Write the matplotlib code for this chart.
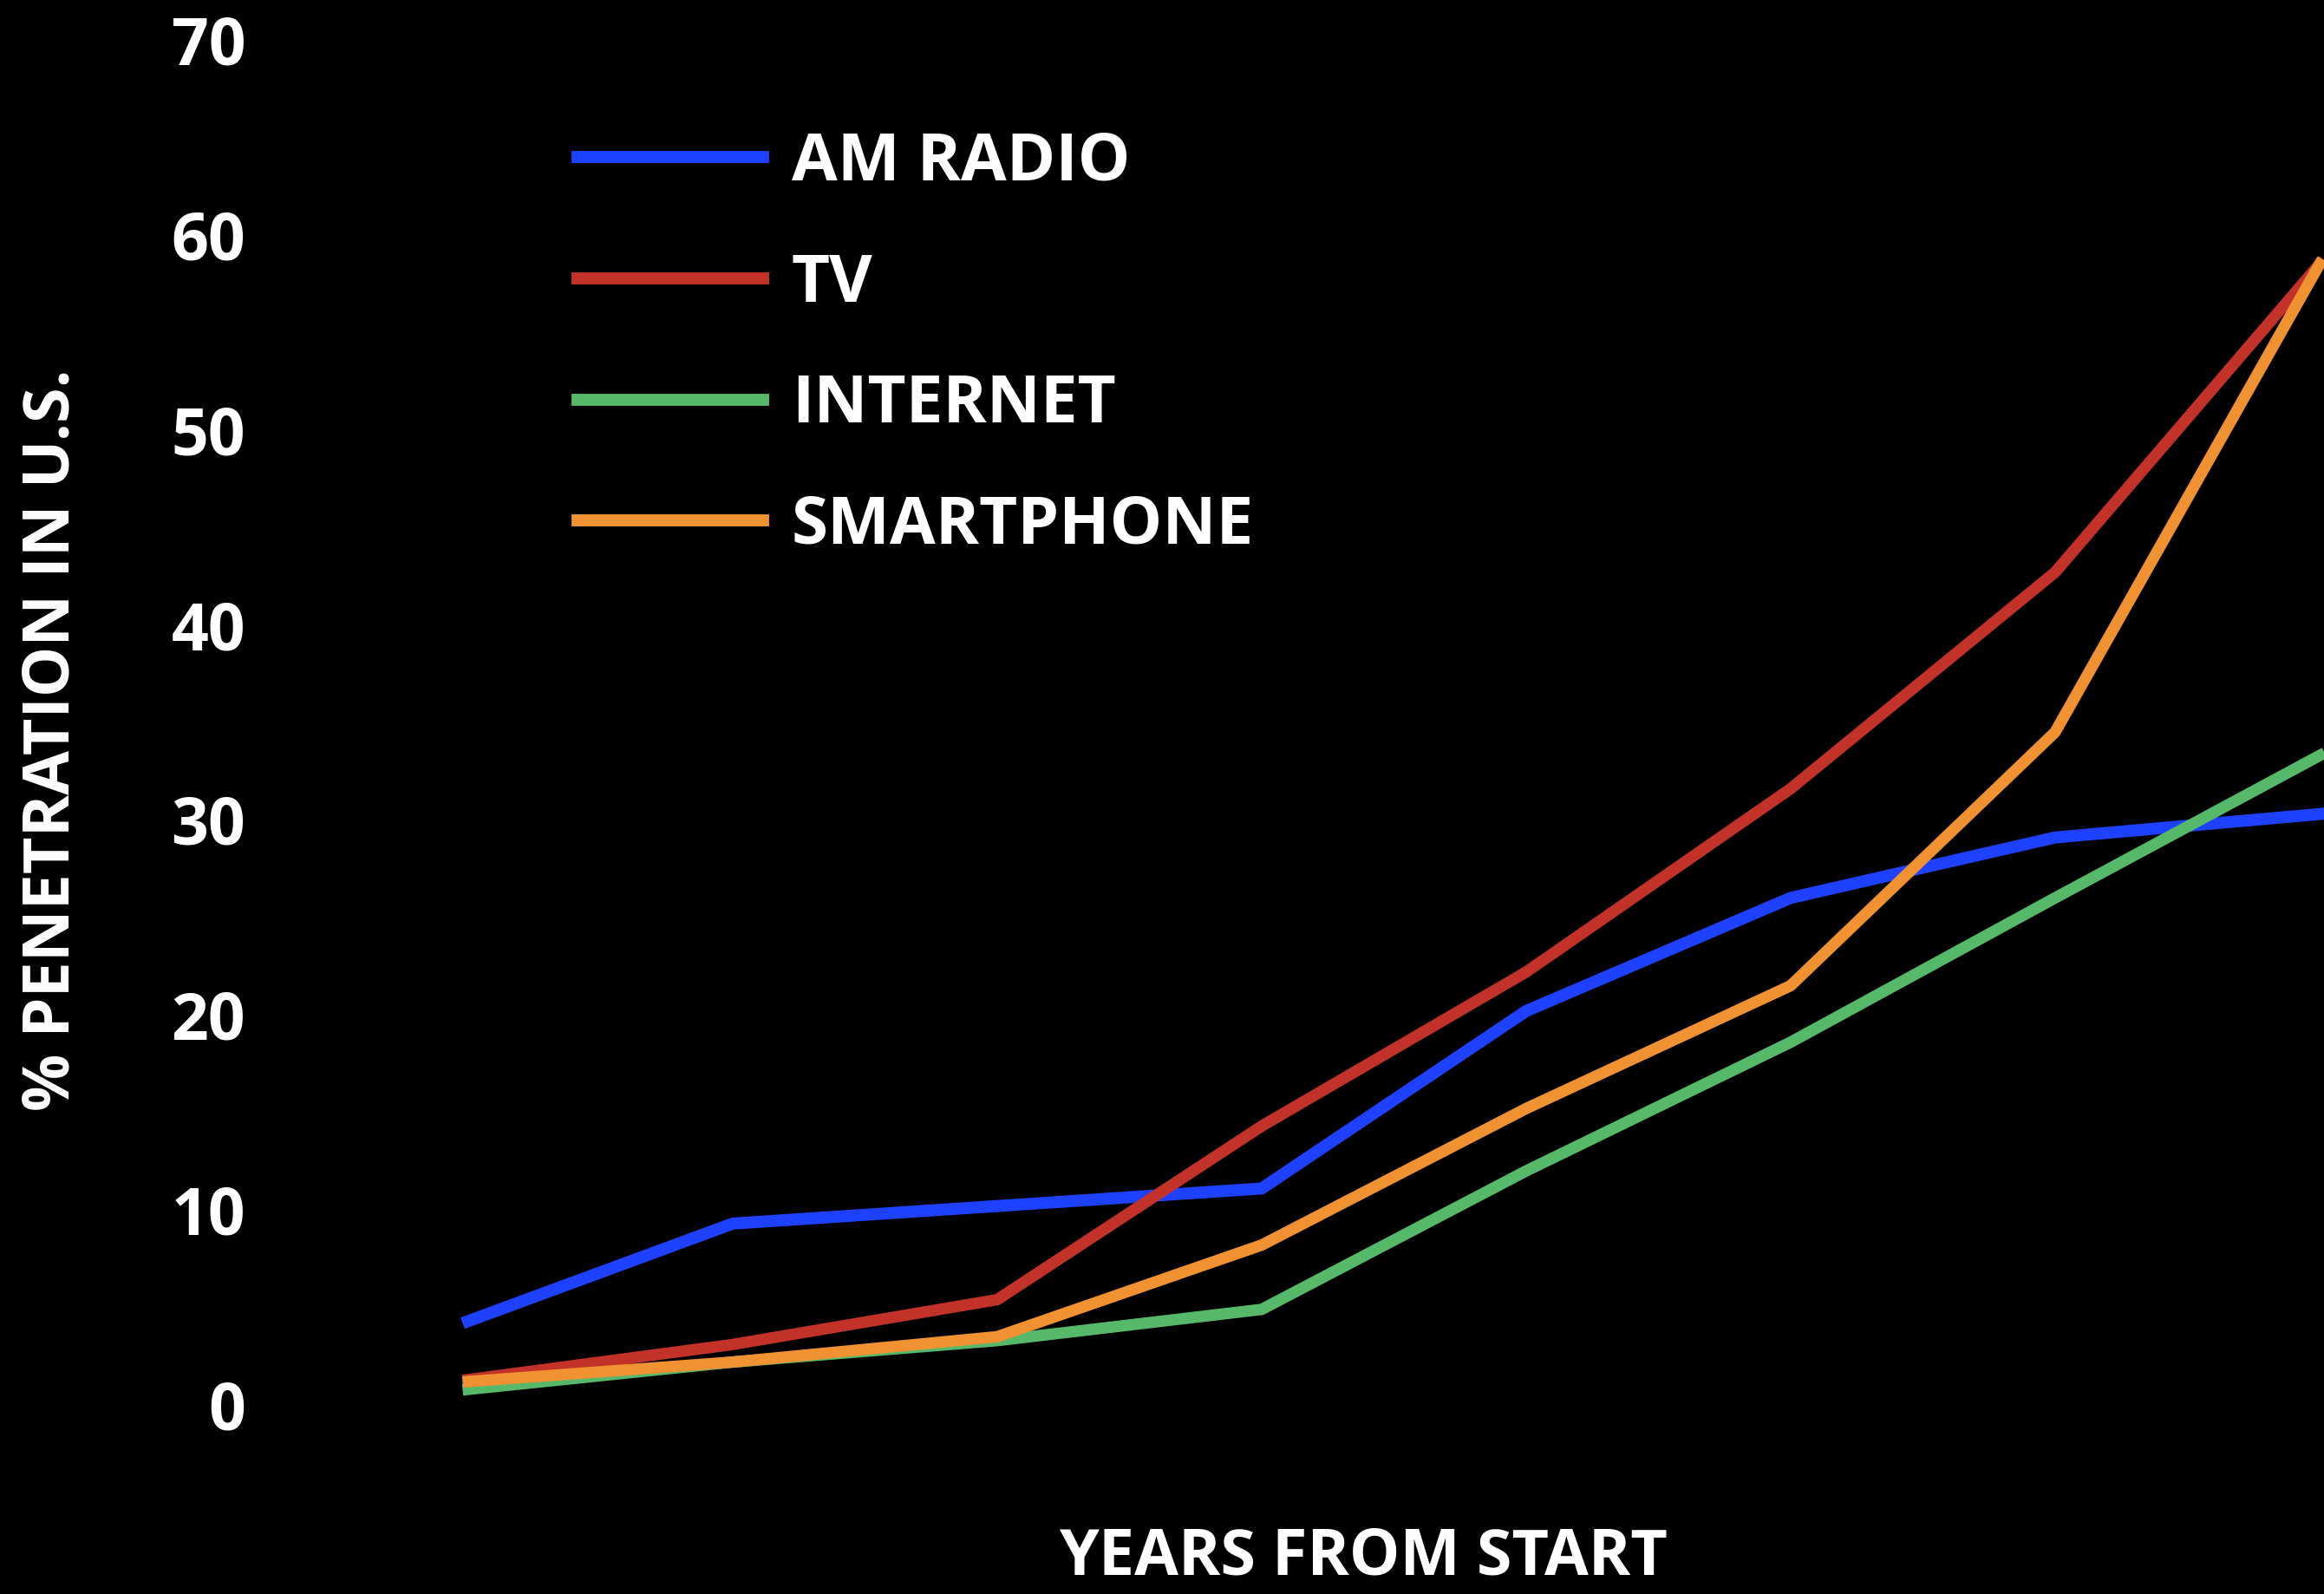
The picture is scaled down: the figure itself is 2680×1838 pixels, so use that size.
"""
Technology adoption curves: % penetration in U.S. vs years from start.
"""
import matplotlib
matplotlib.use("Agg")
import matplotlib.pyplot as plt

# Data
years = [0, 1, 2, 3, 4, 5, 6, 7]
am_radio = [4.3, 9.3, 10.2, 11.1, 20.2, 26.0, 29.1, 30.3]
tv = [1.3, 3.1, 5.4, 14.3, 22.2, 31.6, 42.7, 58.5]
internet = [0.8, 2.2, 3.3, 4.9, 12.0, 18.6, 26.0, 33.3]
smartphone = [1.2, 2.2, 3.5, 8.2, 15.2, 21.5, 34.5, 58.5]
y_ticks = [0, 10, 20, 30, 40, 50, 60, 70]

# Colors
c_bg = "#000000"
c_text = "#FFFFFF"
c_radio = "#1E41FF"
c_tv = "#C33228"
c_net = "#55B969"
c_phone = "#F09132"

plt.rcParams['font.family'] = ['Open Sans', 'DejaVu Sans']
plt.rcParams['font.weight'] = 'bold'

fig = plt.figure(figsize=(26.8, 18.38), dpi=100, facecolor=c_bg)
ax = fig.add_axes([0.2015, 0.1186, 0.7966, 0.8564])
ax.set_facecolor(c_bg)

ax.plot(years, am_radio, color=c_radio, linewidth=10, label="AM RADIO", clip_on=False)
ax.plot(years, tv, color=c_tv, linewidth=9.5, label="TV", clip_on=False)
ax.plot(years, internet, color=c_net, linewidth=9.5, label="INTERNET", clip_on=False)
ax.plot(years, smartphone, color=c_phone, linewidth=9.5, label="SMARTPHONE", clip_on=False)

ax.set_xlim(0, 7)
ax.set_ylim(0, 70)
ax.set_xticks([])
ax.set_yticks(y_ticks)
ax.tick_params(axis='y', length=0, pad=185, labelsize=54, labelcolor=c_text)

for side in ['top', 'right', 'bottom', 'left']:
    ax.spines[side].set_visible(False)

# Axis titles
ax.set_ylabel("% PENETRATION IN U.S.", fontsize=53, fontweight='bold',
              color=c_text, va='center')
ax.yaxis.set_label_coords(-0.2248, 0.487)
ax.set_xlabel("YEARS FROM START", fontsize=53, fontweight='bold',
              color=c_text, va='baseline')
ax.xaxis.set_label_coords(0.4834, -0.1239)

leg = ax.legend(loc="upper left", bbox_to_anchor=(666 / 2680, 1 - 151 / 1838),
                bbox_transform=fig.transFigure, frameon=False,
                prop={'size': 55, 'weight': 'bold'}, labelcolor=c_text,
                handlelength=2.8, handletextpad=0.43, labelspacing=0.846,
                borderpad=0, borderaxespad=0)
for line in leg.get_lines():
    line.set_linewidth(10)

fig.savefig("out.png", dpi=100, facecolor=c_bg)
plt.close(fig)
